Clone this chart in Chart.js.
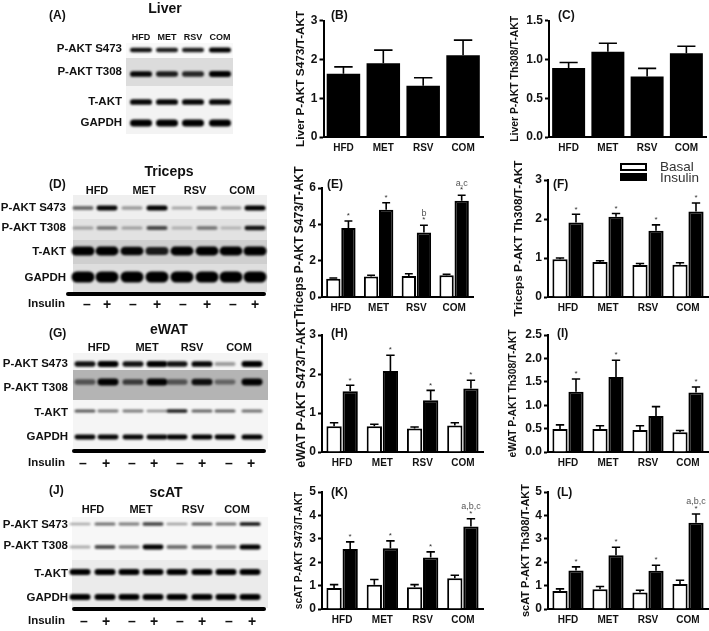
<!DOCTYPE html>
<html><head><meta charset="utf-8">
<script src="https://cdn.jsdelivr.net/npm/chart.js@4"></script>
<style>
html,body{margin:0;padding:0;background:#fff;width:709px;height:631px;overflow:hidden}
#fig{position:relative;width:709px;height:631px;overflow:hidden;font-family:"Liberation Sans",Arial,sans-serif;filter:blur(0.3px)}
canvas{position:absolute}
.t{position:absolute;white-space:nowrap;font-weight:bold;line-height:1;color:#111}
.sw{position:absolute;box-sizing:border-box;border:2px solid #000}
</style></head><body><div id="fig"></div>
<script>
// ---------- category and tick labels ----------
const categories = ['HFD','MET','RSV','COM'];
const blotRows = ['P-AKT S473','P-AKT T308','T-AKT','GAPDH'];

// ---------- single-series panels (value, top of error bar) ----------
const liverS473 = [1.63,1.90,1.32,2.11];
const liverS473Err = [1.81,2.24,1.53,2.50];
const liverT308 = [0.89,1.10,0.78,1.08];
const liverT308Err = [0.96,1.21,0.885,1.17];

// ---------- Basal / Insulin panels ----------
const tricepsS473Basal = [1.00,1.13,1.15,1.20];
const tricepsS473BasalErr = [1.05,1.20,1.28,1.25];
const tricepsS473Insulin = [3.80,4.80,3.55,5.30];
const tricepsS473InsulinErr = [4.18,5.19,3.95,5.60];
const tricepsT308Basal = [0.97,0.90,0.82,0.83];
const tricepsT308BasalErr = [1.00,0.93,0.86,0.88];
const tricepsT308Insulin = [1.91,2.06,1.70,2.19];
const tricepsT308InsulinErr = [2.12,2.14,1.85,2.41];
const ewatS473Basal = [0.66,0.66,0.60,0.68];
const ewatS473BasalErr = [0.75,0.71,0.64,0.75];
const ewatS473Insulin = [1.56,2.08,1.33,1.63];
const ewatS473InsulinErr = [1.71,2.48,1.58,1.84];
const ewatT308Basal = [0.49,0.49,0.47,0.42];
const ewatT308BasalErr = [0.58,0.56,0.56,0.46];
const ewatT308Insulin = [1.29,1.60,0.77,1.27];
const ewatT308InsulinErr = [1.56,1.96,0.97,1.39];
const scatS473Basal = [0.90,1.04,0.93,1.31];
const scatS473BasalErr = [1.04,1.26,1.04,1.44];
const scatS473Insulin = [2.56,2.60,2.20,3.53];
const scatS473InsulinErr = [2.87,2.91,2.44,3.86];
const scatT308Basal = [0.77,0.84,0.70,1.07];
const scatT308BasalErr = [0.86,0.96,0.80,1.23];
const scatT308Insulin = [1.64,2.30,1.63,3.69];
const scatT308InsulinErr = [1.80,2.64,1.87,4.06];

// ---------- significance marks on the Insulin bars ----------
const allStars = ['*','*','*','*'];
const ewatT308Stars = ['*','*','','*'];
const tricepsS473Letters = ['','','b','a,c'];
const scatS473Letters = ['','','','a,b,c'];
const scatT308Letters = ['','','','a,b,c'];

// ---------- blot band strengths (one value per lane) ----------
const liverBands = [[.85,.8,.8,1],[.9,.8,.75,.95],[.9,.9,.9,.9],[1,1,1,1]];
const tricepsBands = [[.45,.9,.25,1,.2,.4,.25,1],[.2,.4,.2,.6,.12,.4,.1,.85],[1,.95,.9,.8,.95,.95,.95,1],[1,1,1,1,1,1,1,1]];
const ewatBands = [[.85,1,.85,1,.85,.9,.25,1],[.45,.95,.6,1,.45,.85,.35,.95],[.55,.4,.4,.3,.8,.5,.5,.45],[.9,.9,.9,.9,.95,.95,.95,1]];
const scatBands = [[.2,.45,.4,.65,.25,.55,.45,.85],[.2,.6,.4,.95,.45,.5,.45,1],[1,1,1,1,.95,.95,1,1],[1,1,.95,1,1,.95,.95,1]];

// ---------- drawing ----------
const fig = document.getElementById('fig');
const FONT = '"Liberation Sans",Arial,sans-serif';
function text(s,x,y,size,align,opts){
  opts=opts||{};
  const d=document.createElement('div');d.className='t';d.textContent=s;
  d.style.fontSize=size+'px';d.style.top=(y-size/2)+'px';
  if(opts.weight)d.style.fontWeight=opts.weight;
  if(opts.color)d.style.color=opts.color;
  if(align==='right'){d.style.right=(709-x)+'px';}
  else if(align==='center'){d.style.left=x+'px';d.style.transform='translateX(-50%)';}
  else d.style.left=x+'px';
  fig.appendChild(d);
}
function mkCanvas(l,t,w,h){
  const c=document.createElement('canvas');c.width=w;c.height=h;
  c.style.left=l+'px';c.style.top=t+'px';c.style.width=w+'px';c.style.height=h+'px';
  fig.appendChild(c);return c;
}

const errorBars={id:'errorBars',afterDatasetsDraw(chart){
  const ctx=chart.ctx,y=chart.scales.y;
  chart.data.datasets.forEach((ds,i)=>{
    const meta=chart.getDatasetMeta(i);
    meta.data.forEach((bar,j)=>{
      const top=y.getPixelForValue(ds.errTop[j]),base=y.getPixelForValue(ds.data[j]);
      const cap=bar.width*0.55/2;
      ctx.save();ctx.strokeStyle='#000';ctx.lineWidth=1.6;ctx.beginPath();
      ctx.moveTo(bar.x,base);ctx.lineTo(bar.x,top);
      ctx.moveTo(bar.x-cap,top);ctx.lineTo(bar.x+cap,top);ctx.stroke();
      ctx.textAlign='center';ctx.textBaseline='middle';
      if(ds.stars&&ds.stars[j]){
        ctx.fillStyle='#333';ctx.font='8px '+FONT;
        ctx.fillText(ds.stars[j],bar.x,top-5);
      }
      if(ds.letters&&ds.letters[j]){
        ctx.fillStyle='#555';ctx.font='9px '+FONT;
        ctx.fillText(ds.letters[j],bar.x,top-12);
      }
      ctx.restore();
    });
  });
}};

function panel(o){
  const L=o.titleOff+6,T=Math.min(o.y0,30),R=3,B=24;
  const w=Math.round(o.x1-o.x0+L+R),h=Math.round(o.y1-o.y0+T+B);
  const c=mkCanvas(Math.round(o.x0-L),Math.round(o.y0-T),w,h);
  new Chart(c,{type:'bar',data:{labels:categories,datasets:o.datasets},plugins:[errorBars],options:{
    responsive:false,animation:false,devicePixelRatio:1,
    layout:{padding:{top:T,right:R,left:0,bottom:0}},
    plugins:{legend:{display:false},tooltip:{enabled:false},title:{display:false}},
    scales:{
      x:{type:'category',offset:true,grid:{display:false,drawTicks:false},
        border:{color:'#000',width:2},
        ticks:{color:'#111',font:{family:FONT,size:10,weight:'bold'},padding:5,maxRotation:0,autoSkip:false},
        afterFit(s){s.height=B;}},
      y:{min:0,max:o.max,grid:{drawOnChartArea:false,drawTicks:true,tickLength:4,tickColor:'#000',tickWidth:2},
        border:{color:'#000',width:2},
        ticks:{stepSize:o.step,color:'#111',font:{family:FONT,size:12,weight:'bold'},padding:2,
          callback:v=>o.dec?v.toFixed(1):String(v)},
        title:{display:true,text:o.title,color:'#111',padding:0,font:{family:FONT,size:o.titleSize,weight:'bold'}},
        afterFit(s){s.width=L;}}
    }
  }});
}
function single(v,e){return [{label:'Value',data:v,errTop:e,backgroundColor:'#000',borderColor:'#000',borderWidth:0,barPercentage:0.84,categoryPercentage:1}];}
function dual(b,be,i,ie,stars,letters){return [
  {label:'Basal',data:b,errTop:be,backgroundColor:'#fff',borderColor:'#000',borderWidth:2,barPercentage:0.95,categoryPercentage:0.8},
  {label:'Insulin',data:i,errTop:ie,stars:stars,letters:letters,backgroundColor:'#000',borderColor:'#000',borderWidth:2,barPercentage:0.95,categoryPercentage:0.8}];}

panel({x0:323,x1:482,y0:20.7,y1:137,max:3,step:1,title:'Liver P-AKT S473/T-AKT',titleOff:23.5,titleSize:11.8,datasets:single(liverS473,liverS473Err)});
panel({x0:549,x1:706,y0:20.7,y1:137,max:1.5,step:.5,dec:true,title:'Liver P-AKT Th308/T-AKT',titleOff:34,titleSize:10.4,datasets:single(liverT308,liverT308Err)});
panel({x0:322,x1:473,y0:187.7,y1:297,max:6,step:2,title:'Triceps P-AKT S473/T-AKT',titleOff:24,titleSize:12,datasets:dual(tricepsS473Basal,tricepsS473BasalErr,tricepsS473Insulin,tricepsS473InsulinErr,allStars,tricepsS473Letters)});
panel({x0:548,x1:708,y0:180,y1:297,max:3,step:1,title:'Triceps P-AKT Th308/T-AKT',titleOff:30,titleSize:11.8,datasets:dual(tricepsT308Basal,tricepsT308BasalErr,tricepsT308Insulin,tricepsT308InsulinErr,allStars)});
panel({x0:322,x1:483,y0:335,y1:451.7,max:3,step:1,title:'eWAT P-AKT S473/T-AKT',titleOff:22,titleSize:12.5,datasets:dual(ewatS473Basal,ewatS473BasalErr,ewatS473Insulin,ewatS473InsulinErr,allStars)});
panel({x0:548,x1:708,y0:335,y1:451.7,max:2.5,step:.5,dec:true,title:'eWAT P-AKT Th308/T-AKT',titleOff:35,titleSize:10.3,datasets:dual(ewatT308Basal,ewatT308BasalErr,ewatT308Insulin,ewatT308InsulinErr,ewatT308Stars)});
panel({x0:322,x1:483,y0:491.7,y1:608.3,max:5,step:1,title:'scAT P-AKT S473/T-AKT',titleOff:23,titleSize:10.2,datasets:dual(scatS473Basal,scatS473BasalErr,scatS473Insulin,scatS473InsulinErr,allStars,scatS473Letters)});
panel({x0:548,x1:708,y0:491.7,y1:608.3,max:5,step:1,title:'scAT P-AKT Th308/T-AKT',titleOff:23,titleSize:11,datasets:dual(scatT308Basal,scatT308BasalErr,scatT308Insulin,scatT308InsulinErr,allStars,scatT308Letters)});

// blots: scatter points through hidden pixel-aligned linear scales, painted as blurred bands
const blotPainter={id:'blotPainter',beforeDatasetsDraw(chart){
  const ctx=chart.ctx,o=chart.options.plugins.blotPainter,sx=chart.scales.x,sy=chart.scales.y;
  ctx.save();
  (o.back||[]).forEach(b=>{
    ctx.fillStyle=b[2];
    const xa=sx.getPixelForValue(b[3]===undefined?sx.min:b[3]),xb=sx.getPixelForValue(b[4]===undefined?sx.max:b[4]);
    ctx.fillRect(xa,sy.getPixelForValue(b[0]),xb-xa,sy.getPixelForValue(b[1])-sy.getPixelForValue(b[0]));
  });
  ctx.filter='blur('+(o.blur||1.3)+'px)';
  chart.data.datasets.forEach((ds,i)=>{
    chart.getDatasetMeta(i).data.forEach((p,j)=>{
      const a=ds.strength[j],bh=ds.bandH*(0.55+0.45*a),bw=ds.bandW+(ds.bandH>8?2:0);
      ctx.fillStyle='rgba(0,0,0,'+Math.min(1,0.12+a*0.95)+')';
      ctx.beginPath();
      ctx.roundRect(p.x-bw/2,p.y-bh/2,bw,bh,bh/2);
      ctx.fill();
    });
  });
  ctx.filter='none';
  if(o.rule){
    ctx.fillStyle='#000';
    const xa=sx.getPixelForValue(o.rule[0]),xb=sx.getPixelForValue(o.rule[1]),yy=sy.getPixelForValue(o.rule[2]);
    ctx.beginPath();ctx.roundRect(xa,yy-2,xb-xa,4,2);ctx.fill();
  }
  ctx.restore();
}};
function blot(o){
  const c=mkCanvas(o.x0,o.y0,o.x1-o.x0,o.y1-o.y0);
  new Chart(c,{type:'scatter',data:{datasets:o.bands.map((row,r)=>({
      label:blotRows[r],strength:row,bandH:o.rowH[r],bandW:o.bandW,pointRadius:0,showLine:false,
      data:row.map((_,j)=>({x:o.lanes[j],y:o.rowY[r]}))}))},
    plugins:[blotPainter],options:{responsive:false,animation:false,devicePixelRatio:1,layout:{padding:0},
      plugins:{legend:{display:false},tooltip:{enabled:false},blotPainter:{back:o.back,rule:o.rule,blur:o.blur}},
      scales:{x:{type:'linear',display:false,min:o.x0,max:o.x1},y:{type:'linear',display:false,reverse:true,min:o.y0,max:o.y1}}}});
}
blot({x0:126,x1:233,y0:43,y1:134,bands:liverBands,lanes:[141,167,193,220],rowY:[50,74,102,123],rowH:[5,6,6,7],bandW:22,
  back:[[43,58,'#f9f9f9'],[58,86,'#dcdcdc'],[86,134,'#f3f3f3']]});
blot({x0:66,x1:268,y0:195,y1:298,bands:tricepsBands,lanes:[83,107,132,157,182,207,231,255],rowY:[208,228,251,277],rowH:[5,5,9,11],bandW:21,
  back:[[195,219,'#efefef',73,267],[219,240,'#e2e2e2',73,267],[240,264,'#cfcfcf',73,267],[264,292,'#dedede',73,267]],rule:[66,266,294]});
blot({x0:66,x1:268,y0:353,y1:455,bands:ewatBands,lanes:[85,108,133,157,177,202,225,252],rowY:[364,382,411,437],rowH:[6,7,4,5],bandW:21,
  back:[[353,370,'#f4f4f4',73,268],[370,400,'#b4b4b4',73,268],[400,449,'#f5f5f5',73,268]],rule:[72,266,451]});
blot({x0:66,x1:268,y0:517,y1:613,bands:scatBands,lanes:[80,105,129,153,177,202,226,250],rowY:[524,547,572,597],rowH:[4,5,6,6],bandW:21,
  back:[[517,560,'#f7f7f7',72,268],[560,608,'#ebebeb',72,268]],rule:[72,266,609]});

// text of the blot panels
[['(A)',49,15],['(B)',331,15],['(C)',558,15],['(D)',49,184],['(E)',327,184],['(F)',553,184],['(G)',49,333],['(H)',331,333],['(I)',557,333],['(J)',49,490],['(K)',331,492],['(L)',557,492]]
  .forEach(p=>text(p[0],p[1],p[2],12,'left'));
text('Liver',165,8,14,'center');text('Triceps',169,171,14,'center');text('eWAT',169,329,14,'center');text('scAT',166,492,14,'center');
function rowLabels(right,ys,size){blotRows.forEach((r,i)=>text(r,right,ys[i],size,'right'));}
rowLabels(122,[49,72,102,123],11.5);
rowLabels(66,[208,228,252,278],11.5);
rowLabels(68,[364,388,413,437],11.5);
rowLabels(68,[525,546,574,598],11.5);
function groups(xs,y,size){categories.forEach((c,i)=>text(c,xs[i],y,size,'center'));}
groups([141,167,193,220],37,9);
groups([97,144,195,242],190,11);
groups([99,147,192,239],347,11);
groups([93,141,193,237],509,11);
function insulin(xs,y){text('Insulin',65,y,11.5,'right');xs.forEach((x,i)=>text(i%2?'+':'\u2013',x,y,14,'center'));}
insulin([87,107,133,157,183,207,233,255],304);
insulin([83,106,132,154,180,202,229,251],463);
insulin([84,106,132,154,180,202,229,252],621);

// legend
function swatch(x,y,w,h,bg){const s=document.createElement('div');s.className='sw';s.style.cssText+='left:'+x+'px;top:'+y+'px;width:'+w+'px;height:'+h+'px;background:'+bg;fig.appendChild(s);}
swatch(620,163,27,8,'#fff');swatch(620,173,27,8,'#000');
text('Basal',660,167,13.5,'left',{weight:'normal',color:'#333'});
text('Insulin',660,178,13.5,'left',{weight:'normal',color:'#333'});
</script></body></html>
